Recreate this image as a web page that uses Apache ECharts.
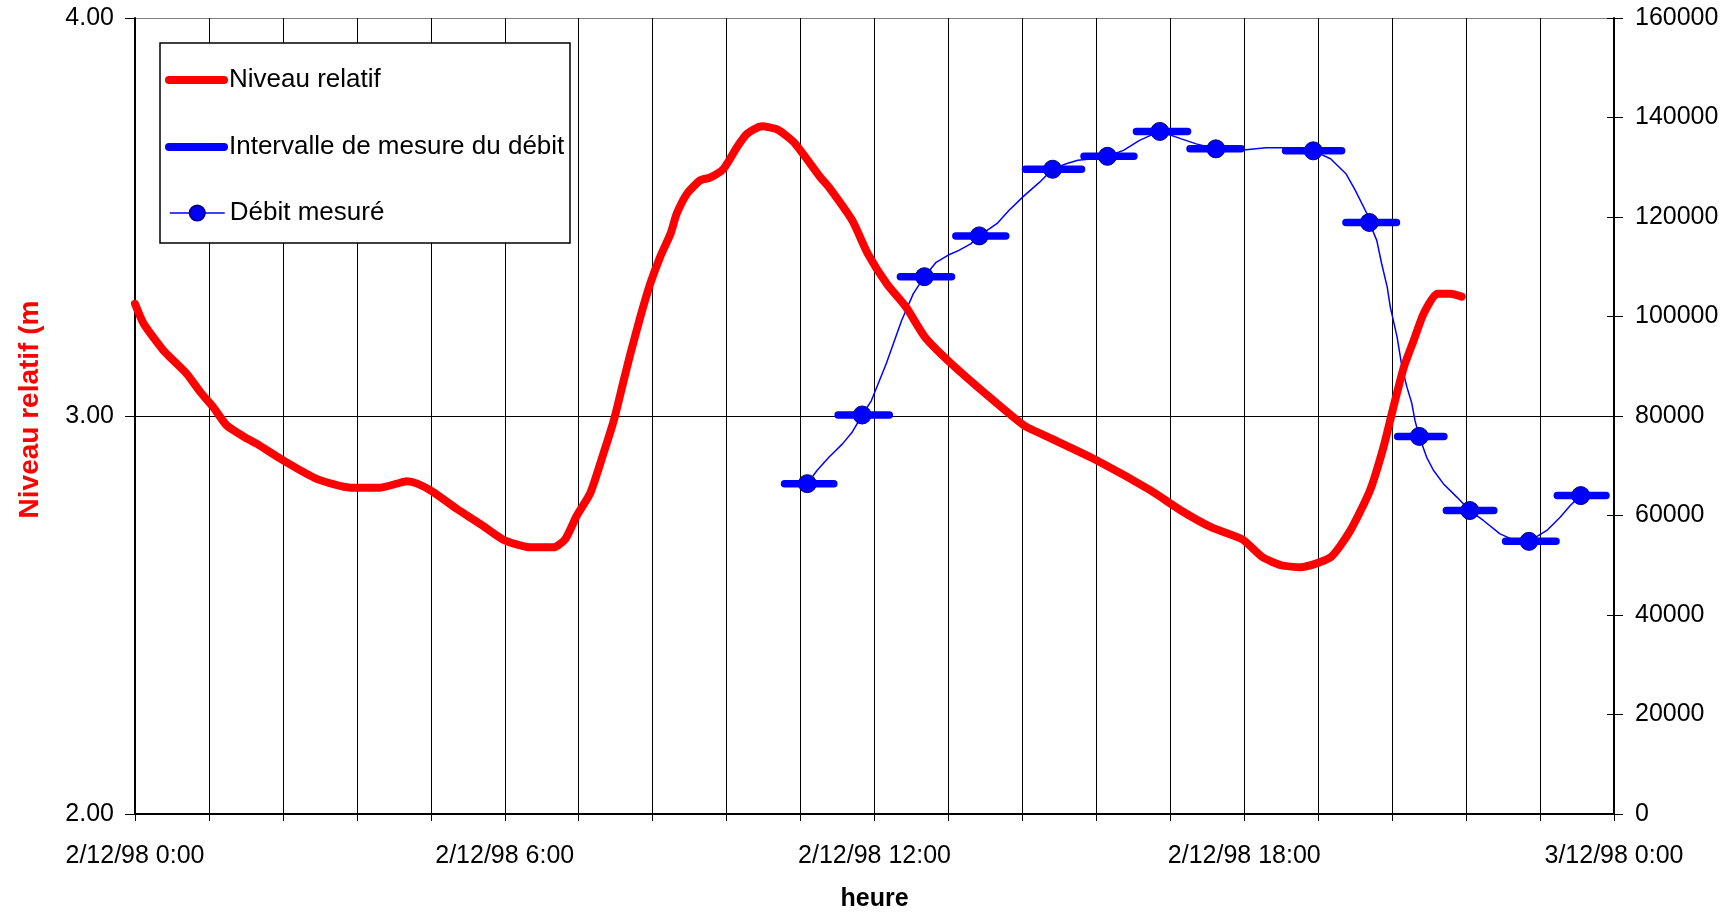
<!DOCTYPE html>
<html><head><meta charset="utf-8">
<script src="https://cdn.jsdelivr.net/npm/echarts@6/dist/echarts.min.js"></script>
<style>html,body{margin:0;padding:0;background:#fff}#c{width:1733px;height:912px}</style>
</head><body><div id="c"></div>
<script>
// Niveau relatif (m) vs hour of day
const levelHours = [0, 0.14, 0.46, 0.84, 1.06, 1.27, 1.49, 1.82, 1.98, 2.41, 2.95, 3.49, 3.98, 4.25, 4.41, 4.58, 4.84, 5.22, 5.60, 5.98, 6.41, 6.79, 6.98, 7.17, 7.39, 7.60, 7.77, 7.93, 8.04, 8.20, 8.36, 8.52, 8.69, 8.79, 8.96, 9.17, 9.33, 9.55, 9.77, 9.93, 10.17, 10.42, 10.69, 11.12, 11.26, 11.64, 11.89, 12.2, 12.51, 12.82, 13.25, 13.87, 14.43, 14.87, 15.61, 16.48, 16.98, 17.47, 17.97, 18.3, 18.6, 18.91, 19.40, 19.72, 20.04, 20.26, 20.42, 20.59, 20.75, 20.91, 21.13, 21.35, 21.53];
const levelValues = [3.282, 3.232, 3.165, 3.106, 3.06, 3.022, 2.976, 2.943, 2.93, 2.888, 2.842, 2.82, 2.82, 2.83, 2.836, 2.83, 2.809, 2.767, 2.729, 2.689, 2.67, 2.67, 2.69, 2.75, 2.807, 2.905, 2.989, 3.089, 3.157, 3.249, 3.332, 3.399, 3.458, 3.508, 3.559, 3.592, 3.599, 3.621, 3.676, 3.709, 3.728, 3.72, 3.688, 3.60, 3.575, 3.491, 3.408, 3.332, 3.274, 3.198, 3.131, 3.047, 2.976, 2.943, 2.888, 2.813, 2.762, 2.72, 2.69, 2.645, 2.625, 2.62, 2.645, 2.712, 2.813, 2.922, 3.022, 3.123, 3.19, 3.257, 3.307, 3.307, 3.30];

// Débit mesuré (measured flow) points
const measuredHours = [10.91, 11.80, 12.81, 13.70, 14.89, 15.78, 16.63, 17.54, 19.12, 20.03, 20.84, 21.66, 22.62, 23.46];
const measuredValues = [66400, 80200, 108000, 116200, 129600, 132200, 137200, 133700, 133300, 118900, 75900, 61000, 54800, 64000];

// Intervalle de mesure du débit (start / end hour of each measurement)
const intervalStart = [10.54, 11.41, 12.42, 13.32, 14.45, 15.40, 16.25, 17.12, 18.67, 19.65, 20.49, 21.28, 22.24, 23.08];
const intervalEnd = [11.34, 12.24, 13.25, 14.13, 15.36, 16.21, 17.08, 17.95, 19.58, 20.47, 21.24, 22.05, 23.06, 23.87];

// Continuous flow trace between the measurements
const flowTraceHours = [11.07, 11.26, 11.48, 11.64, 11.95, 12.19, 12.44, 12.63, 13.0, 13.19, 13.37, 13.56, 13.99, 14.18, 14.43, 14.68, 15.11, 15.30, 15.55, 16.04, 16.30, 16.48, 16.98, 17.22, 18.03, 18.35, 18.84, 19.03, 19.40, 19.65, 19.80, 19.99, 20.15, 20.23, 20.32, 20.37, 20.48, 20.56, 20.64, 20.72, 20.77, 20.96, 21.07, 21.23, 21.45, 21.88, 22.15, 22.37, 22.91, 23.13, 23.29];
const flowTraceValues = [69100, 71700, 74400, 76800, 83100, 90500, 99200, 104600, 110900, 112300, 113300, 114600, 118700, 121300, 124300, 127000, 130700, 131400, 131700, 133400, 135400, 136400, 135700, 134700, 133500, 133900, 133900, 133500, 131700, 128700, 125400, 120700, 115300, 110600, 105900, 101900, 95900, 89800, 85800, 82500, 79100, 71700, 69100, 66400, 63700, 59000, 56300, 55100, 57000, 59700, 62000];

const xTickLabels = ['2/12/98 0:00', '2/12/98 6:00', '2/12/98 12:00', '2/12/98 18:00', '3/12/98 0:00'];
const seriesNames = ['Niveau relatif', 'Intervalle de mesure du débit', 'Débit mesuré'];

const FONT = 'Liberation Sans, Arial, sans-serif';

const levelData = levelHours.map((h, i) => [h, levelValues[i]]);
const intervalData = [];
intervalStart.forEach((s, i) => {
  intervalData.push([s, measuredValues[i]]);
  intervalData.push([intervalEnd[i], measuredValues[i]]);
  intervalData.push([intervalEnd[i], '-']);
});
const flowPts = measuredHours.map((h, i) => ({h: h, v: measuredValues[i], m: true}))
  .concat(flowTraceHours.map((h, i) => ({h: h, v: flowTraceValues[i], m: false})))
  .sort((a, b) => a.h - b.h);
const flowData = flowPts.map(p => p.m ? {value: [p.h, p.v]} : {value: [p.h, p.v], symbol: 'none'});

const chart = echarts.init(document.getElementById('c'), null, {renderer: 'canvas'});
const legendBase = {
  orient: 'vertical', padding: 0, itemWidth: 55, selectedMode: false,
  textStyle: {fontFamily: FONT, fontSize: 26, color: '#000'}
};
chart.setOption({
  animation: false,
  backgroundColor: '#ffffff',
  grid: {left: 135, top: 18, width: 1479, height: 796, containLabel: false, outerBoundsMode: 'none'},
  legend: [
    Object.assign({}, legendBase, {data: [seriesNames[0]], left: 165, top: 67, itemHeight: 8, lineStyle: {width: 8, cap: 'round'}}),
    Object.assign({}, legendBase, {data: [seriesNames[1]], left: 165, top: 134, itemHeight: 8, lineStyle: {width: 8, cap: 'round'}}),
    Object.assign({}, legendBase, {data: [seriesNames[2]], left: 169, top: 200, itemHeight: 19, lineStyle: {width: 1.5}})
  ],
  graphic: [{
    type: 'rect', z: 3, silent: true,
    shape: {x: 160, y: 43, width: 410, height: 200},
    style: {fill: '#ffffff', stroke: '#000000', lineWidth: 1.5}
  }],
  xAxis: {
    type: 'value', min: 0, max: 24, interval: 1.2,
    name: 'heure', nameLocation: 'middle', nameGap: 73,
    nameTextStyle: {fontFamily: FONT, fontSize: 25, fontWeight: 'bold', color: '#000'},
    axisLine: {show: true, lineStyle: {color: '#000', width: 2}},
    axisTick: {show: true, inside: false, length: 7, lineStyle: {color: '#000', width: 1}},
    axisLabel: {
      show: true, margin: 30, color: '#000', fontFamily: FONT, fontSize: 25,
      showMinLabel: true, showMaxLabel: true, hideOverlap: false,
      formatter: function (v) {
        const k = v / 6;
        return Math.abs(k - Math.round(k)) < 1e-6 ? xTickLabels[Math.round(k)] : '';
      }
    },
    splitLine: {show: true, lineStyle: {color: '#000', width: 1}}
  },
  yAxis: [
    {
      type: 'value', min: 2, max: 4, interval: 1, position: 'left',
      name: 'Niveau relatif (m', nameLocation: 'middle', nameRotate: 90, nameGap: 91,
      nameTextStyle: {fontFamily: FONT, fontSize: 28, fontWeight: 'bold', color: '#ff0000', padding: [0, 0, 0, 13]},
      axisLine: {show: true, lineStyle: {color: '#000', width: 2}},
      axisTick: {show: true, inside: false, length: 10, lineStyle: {color: '#000', width: 1}},
      axisLabel: {margin: 21, color: '#000', fontFamily: FONT, fontSize: 25, formatter: v => v.toFixed(2)},
      splitLine: {show: true, lineStyle: {color: ['#000000', '#000000', '#808080'], width: 1}}
    },
    {
      type: 'value', min: 0, max: 160000, interval: 20000, position: 'right',
      axisLine: {show: true, lineStyle: {color: '#000', width: 2}},
      axisTick: {show: true, inside: false, length: 9, lineStyle: {color: '#000', width: 1}},
      axisLabel: {margin: 21, color: '#000', fontFamily: FONT, fontSize: 25, formatter: v => String(v)},
      splitLine: {show: false}
    },
    {
      type: 'value', min: 0, max: 160000, interval: 20000, position: 'right',
      axisLine: {show: false},
      axisTick: {show: true, inside: true, length: 7, lineStyle: {color: '#000', width: 1}},
      axisLabel: {show: false},
      splitLine: {show: false}
    }
  ],
  series: [
    {
      name: seriesNames[2], type: 'line', yAxisIndex: 1, data: flowData, z: 2,
      symbol: 'circle', symbolSize: 18, showSymbol: true, showAllSymbol: true,
      lineStyle: {color: '#0000ff', width: 1.5},
      itemStyle: {color: '#0000ff', borderColor: '#000080', borderWidth: 1},
      emphasis: {disabled: true}
    },
    {
      name: seriesNames[1], type: 'line', yAxisIndex: 1, data: intervalData, z: 3,
      symbol: 'circle', showSymbol: false, connectNulls: false,
      lineStyle: {color: '#0000ff', width: 7.5, cap: 'round'},
      itemStyle: {color: '#0000ff'},
      emphasis: {disabled: true}
    },
    {
      name: seriesNames[0], type: 'line', yAxisIndex: 0, data: levelData, z: 4,
      symbol: 'circle', showSymbol: false, smooth: 0.2,
      lineStyle: {color: '#ff0000', width: 8, join: 'round', cap: 'round'},
      itemStyle: {color: '#ff0000'},
      emphasis: {disabled: true}
    }
  ]
});
</script>
</body></html>
